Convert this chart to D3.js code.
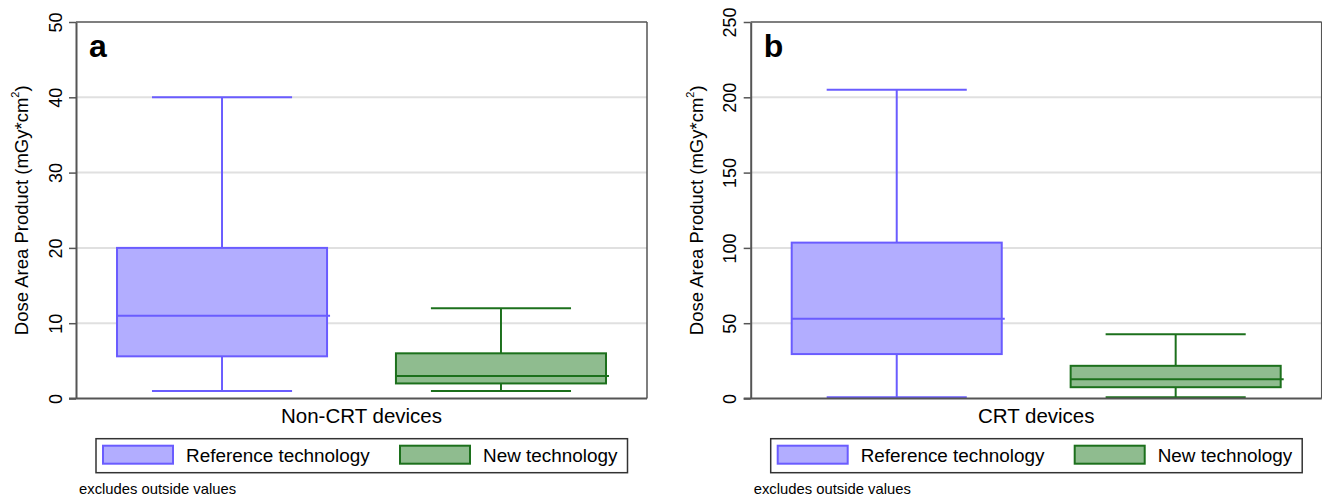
<!DOCTYPE html>
<html><head><meta charset="utf-8">
<script src="https://cdn.jsdelivr.net/npm/d3@7"></script>
<style>
html,body{margin:0;padding:0;background:#fff;}
svg{display:block;font-family:"Liberation Sans",Arial,sans-serif;}
</style></head>
<body>
<svg id="chart" width="1322" height="499"></svg>
<script>
// ---- data ----
const panels = ["a", "b"];
const panelCategories = ["Non-CRT devices", "CRT devices"];
const seriesNames = ["Reference technology", "New technology"];
const yMax = [50, 250];
const yTicks = [[0, 10, 20, 30, 40, 50], [0, 50, 100, 150, 200, 250]];
// box stats per panel: [low whisker, Q1, median, Q3, high whisker]
const refStatsA = [1, 5.6, 11, 20, 40];
const newStatsA = [1, 2, 3, 6, 12];
const refStatsB = [0.8, 29.5, 53, 103.5, 205];
const newStatsB = [0.8, 7.5, 12.7, 21.7, 42.7];
const footnote = "excludes outside values";
const yTitle = "Dose Area Product (mGy*cm";

const strokeColors = ["#6a5cff", "#1c701c"];
const fillColors = ["#b2adff", "#8fbc8f"];

const svg = d3.select("#chart");
const panelX = [76, 750.7];
const W = 571, plotTop = 22, plotBottom = 398.5;

const statsByPanel = [[refStatsA, newStatsA], [refStatsB, newStatsB]];

panels.forEach((p, pi) => {
  const g = svg.append("g").attr("transform", `translate(${panelX[pi]},0)`);
  const y = d3.scaleLinear().domain([0, yMax[pi]]).range([plotBottom, plotTop]);
  const x = d3.scaleBand().domain(seriesNames).range([0, W]).paddingInner(0.247).paddingOuter(0.147);

  // gridlines
  g.selectAll(".grid").data(yTicks[pi].filter(t => t > 0 && t < yMax[pi])).enter()
    .append("line").attr("x1", 0).attr("x2", W)
    .attr("y1", d => y(d)).attr("y2", d => y(d))
    .attr("stroke", "#e0e0e0").attr("stroke-width", 2);

  // plot border (top / right)
  g.append("line").attr("x1", 0).attr("x2", W).attr("y1", y(yMax[pi])).attr("y2", y(yMax[pi]))
    .attr("stroke", "#555").attr("stroke-width", 1.5);
  g.append("line").attr("x1", W).attr("x2", W).attr("y1", plotTop).attr("y2", plotBottom)
    .attr("stroke", "#555").attr("stroke-width", 1.5);

  // boxes
  seriesNames.forEach((s, si) => {
    const st = statsByPanel[pi][si];
    const x0 = x(s), bw = x.bandwidth(), cx = x0 + bw / 2, capW = bw * 0.667;
    const col = strokeColors[si];
    const bg = g.append("g");
    bg.append("line").attr("x1", cx).attr("x2", cx).attr("y1", y(st[4])).attr("y2", y(st[3]))
      .attr("stroke", col).attr("stroke-width", 2);
    bg.append("line").attr("x1", cx).attr("x2", cx).attr("y1", y(st[1])).attr("y2", y(st[0]))
      .attr("stroke", col).attr("stroke-width", 2);
    bg.append("line").attr("x1", cx - capW / 2).attr("x2", cx + capW / 2).attr("y1", y(st[4])).attr("y2", y(st[4]))
      .attr("stroke", col).attr("stroke-width", 2);
    bg.append("line").attr("x1", cx - capW / 2).attr("x2", cx + capW / 2).attr("y1", y(st[0])).attr("y2", y(st[0]))
      .attr("stroke", col).attr("stroke-width", 2);
    bg.append("rect").attr("x", x0).attr("width", bw)
      .attr("y", y(st[3])).attr("height", y(st[1]) - y(st[3]))
      .attr("fill", fillColors[si]).attr("stroke", col).attr("stroke-width", 2);
    bg.append("line").attr("x1", x0).attr("x2", x0 + bw + 3).attr("y1", y(st[2])).attr("y2", y(st[2]))
      .attr("stroke", col).attr("stroke-width", 2);
  });

  // y axis
  const ax = g.append("g").call(d3.axisLeft(y).tickValues(yTicks[pi]).tickSize(7).tickSizeOuter(0).tickFormat(d3.format("d")));
  ax.select(".domain").attr("stroke", "#555").attr("stroke-width", 2);
  ax.selectAll(".tick line").attr("stroke", "#555").attr("stroke-width", 1.5);
  ax.selectAll(".tick text")
    .attr("x", null).attr("dy", null)
    .attr("transform", "translate(-14.5,0) rotate(-90)")
    .attr("text-anchor", "middle").attr("fill", "#000")
    .style("font-size", "18px").style("font-family", "Liberation Sans, Arial, sans-serif");

  // x axis baseline
  g.append("line").attr("x1", -7).attr("x2", W).attr("y1", plotBottom).attr("y2", plotBottom)
    .attr("stroke", "#555").attr("stroke-width", 2);

  // y title
  const yt = g.append("text").attr("transform", `translate(-48,${(plotTop + plotBottom) / 2}) rotate(-90)`)
    .attr("text-anchor", "middle").style("font-size", "18.5px").attr("fill", "#000");
  yt.append("tspan").text(yTitle);
  yt.append("tspan").attr("dy", -9).style("font-size", "11px").text("2");
  yt.append("tspan").attr("dy", 9).text(")");

  // panel letter
  g.append("text").attr("x", 13).attr("y", 57).text(p)
    .style("font-size", "32px").style("font-weight", "bold").attr("fill", "#000");

  // category label
  g.append("text").attr("x", W / 2).attr("y", 423).attr("text-anchor", "middle")
    .style("font-size", "20.5px").attr("fill", "#000").text(panelCategories[pi]);

  // legend
  const lg = g.append("g");
  lg.append("rect").attr("x", 20).attr("y", 438.7).attr("width", 531.5).attr("height", 34)
    .attr("fill", "#fff").attr("stroke", "#333").attr("stroke-width", 1.5);
  const legX = [27, 324];
  seriesNames.forEach((s, si) => {
    lg.append("rect").attr("x", legX[si]).attr("y", 445.7).attr("width", 70).attr("height", 18)
      .attr("fill", fillColors[si]).attr("stroke", strokeColors[si]).attr("stroke-width", 2);
    lg.append("text").attr("x", legX[si] + 83).attr("y", 461.5).style("font-size", "18.9px")
      .attr("fill", "#000").text(s);
  });

  // footnote
  g.append("text").attr("x", 3).attr("y", 494).style("font-size", "14.8px").attr("fill", "#000").text(footnote);
});
</script>
</body></html>
